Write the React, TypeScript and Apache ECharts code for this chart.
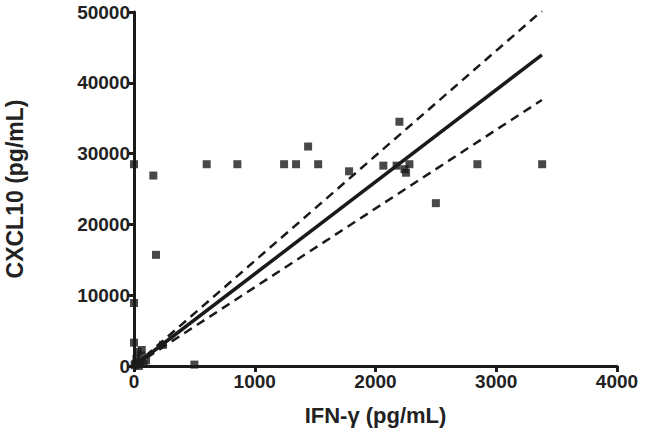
import React, { useEffect, useRef } from "react";
import * as echarts from "echarts";

const xTicks = [0, 1000, 2000, 3000, 4000];
const yTicks = [0, 10000, 20000, 30000, 40000, 50000];

const ifnValues = [0, 0, 0, 10, 20, 30, 40, 50, 60, 64, 80, 100, 5, 240, 160, 182, 500, 602, 856, 1243, 1342, 1442, 1525, 1781, 2065, 2175, 2198, 2281, 2253, 2240, 2500, 2844, 3380];
const cxclValues = [28500, 8900, 3300, 300, 1000, 2000, 0, 500, 1500, 2260, 300, 800, 100, 3000, 26900, 15700, 200, 28500, 28500, 28500, 28500, 31000, 28500, 27500, 28300, 28300, 34500, 28500, 27300, 27800, 23000, 28500, 28500];

const fitLine = [[0, 0], [3378, 43930]];
const upperBand = [[0, 0], [3378, 50150]];
const lowerBand = [[0, 0], [3378, 37570]];

const FONT = "'Liberation Sans', Arial, Helvetica, sans-serif";

export default function App() {
  const ref = useRef<HTMLDivElement>(null);
  useEffect(() => {
    if (!ref.current) return;
    const chart = echarts.init(ref.current, null, { renderer: "svg" });
    const points = ifnValues.map((x, i) => [x, cxclValues[i]]);
    const axisCommon = {
      axisLine: { show: true, onZero: false, lineStyle: { color: "#1a1a1a", width: 3 } },
      axisTick: { show: true, length: 6, lineStyle: { color: "#1a1a1a", width: 3 } },
      splitLine: { show: false },
      nameLocation: "middle" as const,
    };
    const labelStyle = {
      fontFamily: FONT,
      fontWeight: "bold" as const,
      fontSize: 19,
      color: "#222",
      formatter: (v: number) => String(v),
    };
    chart.setOption({
      animation: false,
      backgroundColor: "#fff",
      grid: { left: 134, right: 43, top: 12, bottom: 76, containLabel: false, outerBoundsMode: "none" },
      xAxis: {
        type: "value",
        min: xTicks[0],
        max: xTicks[xTicks.length - 1],
        interval: 1000,
        name: "IFN-γ (pg/mL)",
        nameGap: 38,
        nameTextStyle: { fontFamily: FONT, fontWeight: "bold", fontSize: 22, color: "#222" },
        ...axisCommon,
        axisLabel: { ...labelStyle, margin: 6 },
      },
      yAxis: {
        type: "value",
        min: yTicks[0],
        max: yTicks[yTicks.length - 1],
        interval: 10000,
        name: "CXCL10 (pg/mL)",
        nameGap: 108,
        nameTextStyle: { fontFamily: FONT, fontWeight: "bold", fontSize: 23, color: "#222" },
        ...axisCommon,
        axisLabel: { ...labelStyle, margin: 4 },
      },
      series: [
        {
          type: "line",
          data: upperBand,
          symbol: "none",
          clip: true,
          lineStyle: { color: "#1a1a1a", width: 2.5, type: [9, 6] },
          z: 2,
        },
        {
          type: "line",
          data: lowerBand,
          symbol: "none",
          clip: true,
          lineStyle: { color: "#1a1a1a", width: 2.5, type: [9, 6] },
          z: 2,
        },
        {
          type: "line",
          data: fitLine,
          symbol: "none",
          clip: true,
          lineStyle: { color: "#1a1a1a", width: 3.5 },
          z: 3,
        },
        {
          type: "scatter",
          data: points,
          symbol: "rect",
          symbolSize: 8,
          itemStyle: { color: "#1a1a1a" },
          clip: false,
          z: 4,
        },
      ],
    });
    return () => chart.dispose();
  }, []);
  return <div ref={ref} style={{ width: 660, height: 442, position: "absolute", left: 0, top: 0 }} />;
}
